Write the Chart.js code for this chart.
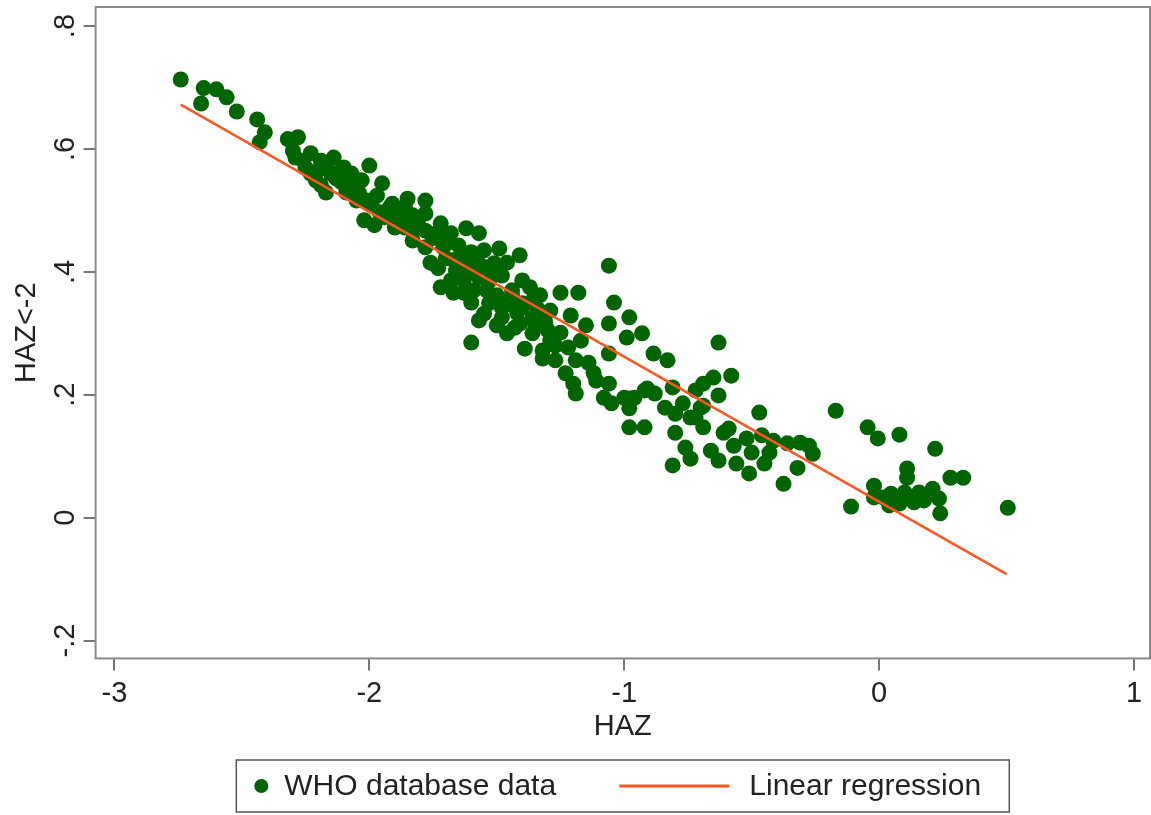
<!DOCTYPE html>
<html>
<head>
<meta charset="utf-8">
<title>HAZ vs HAZ&lt;-2</title>
<script src="https://cdn.jsdelivr.net/npm/chart.js@4/dist/chart.umd.min.js"></script>
<style>
  html, body { margin: 0; padding: 0; background: #fff; }
  .chart-wrap { width: 1151px; height: 815px; position: relative; }
</style>
</head>
<body>
<div class="chart-wrap"><canvas id="myChart"></canvas></div>
<script>
/* DATA */
const hazValues = [
  -2.74, -2.65, -2.60, -2.56, -2.66, -2.52, -2.44, -2.41, -2.43, -2.32, -2.28, -2.29, -2.23, -2.14, -2.10,
  -2.00, -2.23, -2.21, -2.17, -2.07, -2.15, -2.08, -1.95, -2.04, -2.02, -1.91, -1.86, -1.94, -1.88,
  -2.17, -2.11, -2.05, -1.99, -1.98, -2.26, -2.19, -2.19, -2.13, -2.09, -2.03, -2.01, -1.97, -1.96, -1.89,
  -1.83, -1.82, -1.78, -1.83,
  -1.92, -1.85, -1.78, -1.78, -1.72, -1.90, -1.68, -1.62, -1.57, -1.78, -1.71, -1.60, -1.55, -1.49, -1.41,
  -1.76, -1.67, -1.58, -1.51, -1.73, -1.66, -1.06, -1.63, -1.57, -1.52, -1.72, -1.67, -1.59, -1.54, -1.44,
  -1.37, -1.33, -1.25, -1.18, -1.60, -1.53, -1.47, -1.40, -1.34, -1.04, -0.98, -1.06, -1.15, -1.55, -1.48,
  -1.41, -1.36, -1.30, -1.25, -1.60, -1.39, -1.32, -1.22, -1.14, -1.06, -0.99, -1.23, -1.12, -1.27,
  -1.70, -1.65, -1.70, -1.62, -1.56, -1.48, -1.46, -1.68, -1.63, -1.50, -1.40, -1.36, -1.29, -1.57, -1.50,
  -1.46, -1.36, -1.21, -1.17, -1.27, -1.19,
  -1.44, -1.48, -1.40, -1.32, -1.43, -0.93, -1.29, -0.885, -0.83, -0.63, -1.32, -1.20, -1.19, -1.11, -1.06,
  -1.08, -1.05, -1.00, -0.96, -0.91, -0.88, -0.98, -0.92, -0.84, -0.80, -0.77, -0.81, -0.72, -0.69, -0.65,
  -0.58, -0.63, -0.70, -0.72, -0.80, -0.69, -0.59, -0.47,
  -0.98, -0.92, -0.98, -0.69, -0.74, -0.17, -0.61, -0.57, -0.52, -0.50, -0.46, -0.415, -0.36, -0.31, -0.275,
  -0.26, -0.76, -0.74, -0.81, -0.66, -0.63, -0.56, -0.51, -0.45, -0.43, -0.32, -0.375, -0.045, -0.005, -0.02,
  0.08, 0.22, 0.11, 0.11, -0.11, -0.02, 0.016, 0.047, 0.08, 0.10, 0.137, 0.176, 0.21, 0.235, 0.24,
  0.28, 0.33, 0.505, 0.04, 0.157,
  -2.25, -2.20, -2.12, -2.06, -1.93, -1.87, -1.81, -1.75, -1.69, -1.64, -1.61, -1.53, -1.45, -1.42, -1.35,
  -1.31, -1.28, -1.74, -1.86, -2.30
];
const stuntingShare = [
  0.713, 0.699, 0.697, 0.684, 0.674, 0.661, 0.648, 0.627, 0.611, 0.616, 0.619, 0.586, 0.593, 0.586, 0.570,
  0.573, 0.560, 0.549, 0.529, 0.560, 0.560, 0.537, 0.544, 0.528, 0.484, 0.511, 0.505, 0.489, 0.479,
  0.573, 0.546, 0.516, 0.508, 0.476, 0.581, 0.581, 0.541, 0.552, 0.529, 0.549, 0.516, 0.524, 0.497, 0.492,
  0.492, 0.471, 0.467, 0.451,
  0.505, 0.519, 0.516, 0.495, 0.479, 0.472, 0.463, 0.471, 0.463, 0.440, 0.440, 0.432, 0.435, 0.438, 0.427,
  0.415, 0.419, 0.415, 0.414, 0.406, 0.402, 0.410, 0.386, 0.391, 0.397, 0.375, 0.366, 0.370, 0.370, 0.370,
  0.375, 0.362, 0.366, 0.366, 0.350, 0.349, 0.345, 0.349, 0.340, 0.350, 0.326, 0.316, 0.313, 0.332, 0.326,
  0.316, 0.324, 0.305, 0.301, 0.285, 0.275, 0.272, 0.277, 0.252, 0.267, 0.293, 0.235, 0.235, 0.256,
  0.459, 0.443, 0.422, 0.410, 0.410, 0.394, 0.415, 0.386, 0.366, 0.362, 0.386, 0.353, 0.337, 0.321, 0.313,
  0.300, 0.300, 0.329, 0.288, 0.280, 0.256,
  0.362, 0.342, 0.342, 0.329, 0.309, 0.300, 0.288, 0.267, 0.256, 0.285, 0.259, 0.218, 0.202, 0.223, 0.218,
  0.195, 0.186, 0.195, 0.195, 0.210, 0.202, 0.147, 0.147, 0.179, 0.169, 0.186, 0.212, 0.207, 0.218, 0.228,
  0.231, 0.199, 0.179, 0.163, 0.138, 0.147, 0.145, 0.171,
  0.194, 0.207, 0.178, 0.182, 0.163, 0.174, 0.138, 0.117, 0.129, 0.106, 0.134, 0.125, 0.121, 0.122, 0.117,
  0.104, 0.114, 0.096, 0.085, 0.109, 0.093, 0.088, 0.072, 0.088, 0.106, 0.081, 0.055, 0.147, 0.129, 0.052,
  0.135, 0.112, 0.080, 0.065, 0.018, 0.033, 0.033, 0.039, 0.023, 0.041, 0.025, 0.028, 0.047, 0.031, 0.007,
  0.065, 0.065, 0.016, 0.020, 0.041,
  0.569, 0.566, 0.562, 0.540, 0.498, 0.488, 0.480, 0.455, 0.448, 0.428, 0.400, 0.385, 0.355, 0.333, 0.315,
  0.318, 0.290, 0.462, 0.472, 0.597
];

/* regression line end points */
const fitX = [-2.74, 0.50];
const fitY = [0.672, -0.092];

/* ticks */
const xTicks = [-3, -2, -1, 0, 1];
const xTickLabels = ['-3', '-2', '-1', '0', '1'];
const yTicks = [-0.2, 0, 0.2, 0.4, 0.6, 0.8];
const yTickLabels = ['-.2', '0', '.2', '.4', '.6', '.8'];

const seriesLabels = ['WHO database data', 'Linear regression'];

const FONT = '"Liberation Sans", Arial, Helvetica, sans-serif';

const app = {
  /* box round the plot region */
  framePlugin: {
    id: 'frame',
    afterDatasetsDraw: function(chart){
      const a = chart.chartArea;
      const ctx = chart.ctx;
      ctx.save();
      ctx.strokeStyle = '#8a8a8a';
      ctx.lineWidth = 2;
      ctx.strokeRect(a.left, a.top, a.right - a.left, a.bottom - a.top);
      ctx.restore();
    },
  },

  /* boxed legend like the stata one */
  legendPlugin: {
    id: 'boxLegend',
    afterDraw: function(chart){
      const ctx = chart.ctx;
      const a = chart.chartArea;
      const ds = chart.data.datasets;
      const boxW = 773;
      const boxH = 52;
      const left = (a.left + a.right) / 2 - boxW / 2;
      const top = chart.height - 55;
      const midY = top + boxH / 2;

      ctx.save();
      ctx.strokeStyle = '#555';
      ctx.lineWidth = 1.5;
      ctx.strokeRect(left, top, boxW, boxH);

      /* marker 1 - dot */
      ctx.fillStyle = ds[0].backgroundColor;
      ctx.beginPath();
      ctx.arc(left + 25, midY, 7, 0, Math.PI * 2);
      ctx.fill();

      /* marker 2 - line */
      ctx.strokeStyle = ds[1].borderColor;
      ctx.lineWidth = 3;
      ctx.beginPath();
      ctx.moveTo(left + 383, midY);
      ctx.lineTo(left + 493, midY);
      ctx.stroke();

      ctx.fillStyle = '#222';
      ctx.font = '30px ' + FONT;
      ctx.textBaseline = 'middle';
      ctx.textAlign = 'left';
      ctx.fillText(ds[0].label, left + 48, midY + 1);
      ctx.fillText(ds[1].label, left + 513, midY + 1);
      ctx.restore();
    },
  },

  /* no extra room for half labels at the ends of the axes */
  noOverhang: function(scale){
    scale.paddingTop = 0;
    scale.paddingBottom = 0;
    scale.paddingLeft = 0;
    scale.paddingRight = 0;
  },

  createChart: function(){
    const ctx = document.getElementById('myChart').getContext('2d');

    const points = hazValues.map(function(x, i){
      return {x: x, y: stuntingShare[i]};
    });
    const fitLine = fitX.map(function(x, i){
      return {x: x, y: fitY[i]};
    });

    const tickFont = {family: FONT, size: 29};

    new Chart(ctx, {
      type: 'scatter',
      data: {
        datasets: [{
          label: seriesLabels[0],
          data: points,
          backgroundColor: '#006400',
          borderWidth: 0,
          pointRadius: 8,
          pointHoverRadius: 8,
          order: 2,
        },
        {
          label: seriesLabels[1],
          data: fitLine,
          showLine: true,
          borderColor: '#ff5722',
          borderWidth: 2.5,
          pointRadius: 0,
          order: 1,
        }],
      },
      options: {
        responsive: true,
        maintainAspectRatio: false,
        animation: false,
        layout: {
          autoPadding: false,
          padding: {top: 7, right: 1, left: 4, bottom: 71},
        },
        plugins: {
          legend: {display: false},
          tooltip: {enabled: false},
        },
        scales: {
          x: {
            type: 'linear',
            min: -3.074,
            max: 1.063,
            afterBuildTicks: function(scale){
              scale.ticks = xTicks.map(function(v){ return {value: v}; });
            },
            afterFit: app.noOverhang,
            ticks: {
              font: tickFont,
              color: '#222',
              padding: 6,
              maxRotation: 0,
              callback: function(value){
                return xTickLabels[xTicks.indexOf(value)];
              },
            },
            grid: {drawOnChartArea: false, tickLength: 12, color: '#777', lineWidth: 2},
            border: {display: false},
            title: {display: true, text: 'HAZ', font: tickFont, color: '#222', padding: {top: -8, bottom: 0}},
          },
          y: {
            type: 'linear',
            min: -0.229,
            max: 0.831,
            afterBuildTicks: function(scale){
              scale.ticks = yTicks.map(function(v){ return {value: v}; });
            },
            afterFit: app.noOverhang,
            ticks: {
              font: tickFont,
              color: '#222',
              padding: 1,
              minRotation: 90,
              maxRotation: 90,
              crossAlign: 'center',
              callback: function(value){
                const i = yTicks.findIndex(function(t){ return Math.abs(t - value) < 1e-9; });
                return yTickLabels[i];
              },
            },
            grid: {drawOnChartArea: false, tickLength: 12, color: '#777', lineWidth: 2},
            border: {display: false},
            title: {display: true, text: 'HAZ<-2', font: tickFont, color: '#222', padding: {top: 6, bottom: 2}},
          },
        },
      },
      plugins: [app.framePlugin, app.legendPlugin],
    });
  },

  init: function(){
    this.createChart();
  },
};

app.init();
</script>
</body>
</html>
